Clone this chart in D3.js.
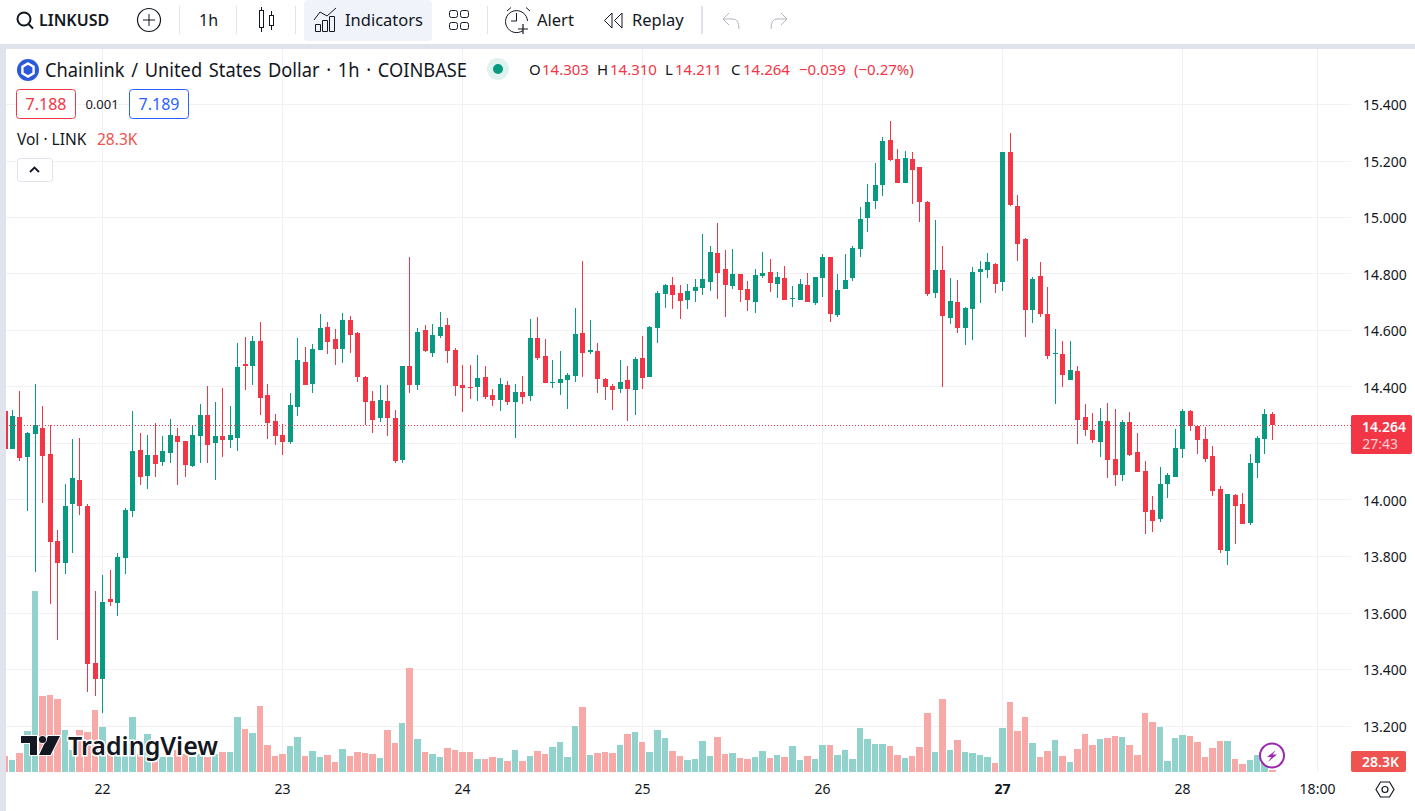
<!DOCTYPE html>
<html>
<head>
<meta charset="utf-8">
<title>LINKUSD</title>
<script src="https://cdn.jsdelivr.net/npm/d3@7"></script>
<style>
  html, body { margin: 0; padding: 0; background: #fff; overflow: hidden; }
  svg { display: block; font-family: "Noto Sans", sans-serif; }
  text { fill: #131722; }
</style>
</head>
<body>
<div id="chart"></div>
<script>
// ------------------------------
// DATA
// one bar per hour, bar 0 = the "22" tick
// ------------------------------
const firstBar = -13;

const opens = [
  14.315, 14.180, 14.294, 14.152, 14.233, 14.255, 14.163, 13.855, 13.777, 13.986, 14.071, 13.979, 13.423,
  13.366, 13.650, 13.635, 13.795, 13.961, 14.177, 14.085, 14.159, 14.134, 14.166, 14.226, 14.209,
  14.120, 14.226, 14.301, 14.202, 14.226, 14.212, 14.219, 14.481, 14.474, 14.563, 14.372, 14.280,
  14.230, 14.205, 14.329, 14.489, 14.411, 14.531, 14.612, 14.570, 14.535, 14.637, 14.591, 14.435,
  14.350, 14.290, 14.350, 14.290, 14.142, 14.474, 14.407, 14.602, 14.520, 14.581, 14.620, 14.531,
  14.407, 14.400, 14.400, 14.435, 14.372, 14.354, 14.407, 14.347, 14.382, 14.368, 14.573, 14.510,
  14.414, 14.414, 14.425, 14.439, 14.591, 14.524, 14.527, 14.428, 14.403, 14.393, 14.425, 14.389,
  14.502, 14.435, 14.609, 14.729, 14.761, 14.733, 14.708, 14.740, 14.750, 14.772, 14.874, 14.818,
  14.757, 14.800, 14.747, 14.701, 14.793, 14.807, 14.764, 14.786, 14.711, 14.708, 14.761, 14.697,
  14.786, 14.860, 14.655, 14.747, 14.786, 14.888, 14.998, 15.058, 15.115, 15.274, 15.207, 15.122,
  15.207, 15.179, 15.055, 14.733, 14.814, 14.644, 14.701, 14.609, 14.676, 14.807, 14.814, 14.835,
  14.772, 15.232, 15.041, 14.924, 14.672, 14.793, 14.658, 14.517, 14.517, 14.425, 14.457, 14.294,
  14.248, 14.205, 14.280, 14.145, 14.088, 14.276, 14.170, 14.103, 13.965, 13.933, 14.057, 14.081,
  14.181, 14.315, 14.262, 14.216, 14.156, 14.039, 13.820, 14.018, 13.986, 13.919, 14.131, 14.216,
  14.303
];
const highs = [
  14.330, 14.318, 14.386, 14.241, 14.410, 14.333, 14.265, 13.894, 14.056, 14.216, 14.219, 13.986, 13.678,
  13.734, 13.752, 13.812, 13.972, 14.315, 14.237, 14.230, 14.272, 14.226, 14.287, 14.255, 14.209,
  14.265, 14.340, 14.403, 14.347, 14.396, 14.333, 14.556, 14.577, 14.581, 14.630, 14.411, 14.304,
  14.269, 14.379, 14.573, 14.542, 14.552, 14.658, 14.630, 14.605, 14.662, 14.651, 14.595, 14.439,
  14.386, 14.407, 14.407, 14.319, 14.474, 14.860, 14.609, 14.620, 14.623, 14.666, 14.644, 14.538,
  14.478, 14.478, 14.513, 14.474, 14.393, 14.432, 14.421, 14.411, 14.439, 14.641, 14.648, 14.570,
  14.496, 14.527, 14.450, 14.680, 14.846, 14.637, 14.556, 14.432, 14.410, 14.495, 14.474, 14.506,
  14.580, 14.616, 14.740, 14.764, 14.789, 14.761, 14.764, 14.782, 14.941, 14.899, 14.980, 14.885,
  14.888, 14.800, 14.775, 14.818, 14.878, 14.853, 14.807, 14.828, 14.757, 14.782, 14.803, 14.789,
  14.871, 14.860, 14.800, 14.871, 14.899, 15.037, 15.119, 15.193, 15.285, 15.342, 15.242, 15.235,
  15.232, 15.179, 15.058, 14.991, 14.899, 14.786, 14.779, 14.683, 14.825, 14.846, 14.874, 14.839,
  15.232, 15.299, 15.080, 14.927, 14.789, 14.842, 14.754, 14.605, 14.563, 14.563, 14.474, 14.340,
  14.308, 14.326, 14.343, 14.322, 14.283, 14.312, 14.237, 14.138, 14.014, 14.117, 14.096, 14.251,
  14.322, 14.319, 14.262, 14.258, 14.191, 14.050, 14.021, 14.021, 14.025, 14.163, 14.227, 14.322,
  14.310
];
const lows = [
  14.170, 14.180, 14.138, 13.961, 13.745, 13.989, 13.632, 13.504, 13.738, 13.812, 13.947, 13.320, 13.306,
  13.246, 13.625, 13.589, 13.738, 13.940, 14.053, 14.039, 14.081, 14.120, 14.131, 14.053, 14.081,
  14.117, 14.131, 14.131, 14.071, 14.152, 14.184, 14.173, 14.389, 14.407, 14.301, 14.216, 14.195,
  14.159, 14.198, 14.297, 14.407, 14.379, 14.531, 14.517, 14.478, 14.485, 14.520, 14.418, 14.265,
  14.237, 14.276, 14.227, 14.131, 14.131, 14.379, 14.389, 14.524, 14.506, 14.573, 14.485, 14.368,
  14.311, 14.358, 14.350, 14.358, 14.333, 14.315, 14.336, 14.219, 14.340, 14.350, 14.496, 14.414,
  14.396, 14.372, 14.322, 14.418, 14.435, 14.517, 14.379, 14.354, 14.318, 14.379, 14.279, 14.301,
  14.393, 14.435, 14.556, 14.679, 14.676, 14.641, 14.676, 14.701, 14.725, 14.740, 14.711, 14.648,
  14.747, 14.701, 14.669, 14.662, 14.786, 14.736, 14.715, 14.708, 14.683, 14.708, 14.701, 14.690,
  14.718, 14.630, 14.648, 14.747, 14.775, 14.860, 14.949, 15.030, 15.076, 15.200, 15.122, 15.122,
  15.048, 14.984, 14.722, 14.715, 14.400, 14.623, 14.591, 14.549, 14.566, 14.697, 14.786, 14.733,
  14.740, 15.041, 14.846, 14.577, 14.626, 14.648, 14.499, 14.340, 14.400, 14.425, 14.198, 14.227,
  14.202, 14.152, 14.078, 14.050, 14.067, 14.156, 14.099, 13.880, 13.887, 13.922, 14.007, 14.081,
  14.149, 14.244, 14.163, 14.135, 14.014, 13.812, 13.770, 13.844, 13.915, 13.911, 14.078, 14.163,
  14.211
];
const closes = [
  14.180, 14.297, 14.148, 14.237, 14.265, 14.156, 13.851, 13.777, 13.979, 14.078, 13.979, 13.419, 13.366,
  13.639, 13.639, 13.798, 13.965, 14.173, 14.081, 14.159, 14.127, 14.173, 14.230, 14.205, 14.124,
  14.230, 14.301, 14.194, 14.226, 14.212, 14.230, 14.471, 14.474, 14.563, 14.361, 14.273, 14.227,
  14.205, 14.336, 14.496, 14.407, 14.535, 14.609, 14.559, 14.535, 14.637, 14.584, 14.435, 14.347,
  14.283, 14.354, 14.290, 14.138, 14.474, 14.407, 14.595, 14.527, 14.584, 14.612, 14.527, 14.404,
  14.396, 14.398, 14.432, 14.365, 14.354, 14.411, 14.347, 14.382, 14.365, 14.573, 14.503, 14.414,
  14.418, 14.428, 14.443, 14.588, 14.520, 14.531, 14.428, 14.400, 14.389, 14.418, 14.393, 14.499,
  14.432, 14.612, 14.733, 14.761, 14.725, 14.704, 14.740, 14.754, 14.782, 14.878, 14.803, 14.761,
  14.800, 14.743, 14.708, 14.796, 14.803, 14.768, 14.789, 14.708, 14.715, 14.764, 14.701, 14.789,
  14.860, 14.658, 14.743, 14.779, 14.892, 14.995, 15.055, 15.115, 15.271, 15.204, 15.122, 15.211,
  15.168, 15.055, 14.729, 14.814, 14.651, 14.704, 14.609, 14.680, 14.807, 14.818, 14.842, 14.765,
  15.232, 15.044, 14.906, 14.672, 14.782, 14.658, 14.510, 14.520, 14.443, 14.460, 14.283, 14.248,
  14.212, 14.280, 14.142, 14.088, 14.276, 14.159, 14.099, 13.958, 13.926, 14.057, 14.089, 14.184,
  14.315, 14.262, 14.212, 14.145, 14.032, 13.823, 14.021, 13.979, 13.915, 14.131, 14.219, 14.304,
  14.264
];
// volume in thousands of LINK
const volumes = [
  224, 168, 266, 574, 2534, 1064, 1078, 1022, 588, 308, 588, 560, 868,
  630, 308, 308, 308, 770, 252, 532, 252, 210, 210, 308, 252,
  210, 252, 210, 252, 280, 280, 770, 602, 546, 924, 378, 224,
  252, 364, 490, 224, 294, 210, 238, 140, 322, 224, 280, 266,
  252, 196, 588, 406, 686, 1456, 462, 280, 252, 210, 336, 308,
  280, 280, 182, 182, 210, 196, 154, 308, 154, 224, 294, 252,
  350, 420, 210, 644, 910, 238, 266, 280, 266, 378, 532, 560,
  420, 280, 588, 476, 294, 224, 168, 182, 434, 224, 490, 252,
  266, 196, 182, 210, 294, 196, 238, 210, 364, 168, 224, 182,
  378, 378, 238, 308, 182, 616, 462, 392, 392, 364, 238, 196,
  224, 350, 826, 280, 1022, 308, 448, 280, 266, 238, 210, 126,
  616, 980, 574, 770, 406, 210, 294, 448, 224, 140, 322, 532,
  378, 462, 476, 504, 490, 378, 238, 826, 700, 630, 154, 476,
  518, 504, 420, 210, 336, 434, 434, 182, 112, 168, 238, 196,
  28.3
];

const priceTicks = [15.4, 15.2, 15.0, 14.8, 14.6, 14.4, 14.0, 13.8, 13.6, 13.4, 13.2];
const gridPrices = [15.4, 15.2, 15.0, 14.8, 14.6, 14.4, 14.2, 14.0, 13.8, 13.6, 13.4, 13.2];
const timeTicks = [0, 24, 48, 72, 96, 120, 144, 162];
const timeLabels = ["22", "23", "24", "25", "26", "27", "28", "18:00"];
const lastPrice = 14.264;
const lastVolume = 28.3;

// ------------------------------
// LAYOUT
// ------------------------------
const width = 1415;
const height = 811;
const paneLeft = 6;
const paneTop = 49;
const paneRight = 1351;
const paneBottom = 772;

const UP = "#089981";
const DOWN = "#f23645";
const UP_VOL = "#92d2cc";
const DOWN_VOL = "#f7a9a7";
const GRID = "#f0f1f3";
const BAND = "#e0e3eb";
const INK = "#131722";

const svg = d3.select("#chart").append("svg")
  .attr("width", width)
  .attr("height", height)
  .attr("viewBox", `0 0 ${width} ${height}`);

svg.append("rect").attr("width", width).attr("height", height).attr("fill", "#fff");

// ------------------------------
// SCALES
// ------------------------------
const x = d3.scaleLinear().domain([0, 144]).range([102, 1182]);
const y = d3.scaleLinear().domain([13.2, 15.4]).range([726, 104.5]);
const yVol = d3.scaleLinear().domain([0, 2534]).range([paneBottom, 591]);

const bars = opens.map((o, i) => ({
  bar: firstBar + i,
  open: o,
  high: highs[i],
  low: lows[i],
  close: closes[i],
  volume: volumes[i]
}));
const isUp = d => d.close >= d.open;
const px = d => Math.round(x(d.bar));

// ------------------------------
// BANDS AROUND THE PANE
// ------------------------------
svg.append("rect").attr("x", 0).attr("y", 44).attr("width", width).attr("height", 5).attr("fill", BAND);
svg.append("rect").attr("x", 0).attr("y", 44).attr("width", paneLeft).attr("height", height - 44).attr("fill", BAND);

svg.append("clipPath").attr("id", "pane")
  .append("rect")
  .attr("x", paneLeft).attr("y", paneTop)
  .attr("width", paneRight - paneLeft).attr("height", paneBottom - paneTop);

// ------------------------------
// GRID
// ------------------------------
const grid = svg.append("g").attr("shape-rendering", "crispEdges").attr("stroke", GRID);
grid.selectAll("line.h").data(gridPrices).join("line")
  .attr("class", "h")
  .attr("x1", paneLeft).attr("x2", paneRight)
  .attr("y1", d => Math.floor(y(d)) + 0.5).attr("y2", d => Math.floor(y(d)) + 0.5);
grid.selectAll("line.v").data(timeTicks).join("line")
  .attr("class", "v")
  .attr("x1", d => Math.round(x(d)) + 0.5).attr("x2", d => Math.round(x(d)) + 0.5)
  .attr("y1", paneTop).attr("y2", paneBottom);

// ------------------------------
// VOLUME + CANDLES
// ------------------------------
const plot = svg.append("g").attr("clip-path", "url(#pane)").attr("shape-rendering", "crispEdges");

plot.append("g").selectAll("rect").data(bars).join("rect")
  .attr("x", d => px(d) - 3)
  .attr("width", d => Math.round(x(d.bar + 1)) - px(d) - 1)
  .attr("y", d => yVol(d.volume))
  .attr("height", d => paneBottom - yVol(d.volume))
  .attr("fill", d => isUp(d) ? UP_VOL : DOWN_VOL);

// logo sits over the volume bars, under the candles
const logo = svg.append("g");
logo.append("path")
  .attr("d", "M21 736H37V755H30V743H21Z M39 755L48 736H60L50.5 755Z")
  .attr("fill", INK).attr("stroke", "#fff").attr("stroke-width", 2).attr("paint-order", "stroke");
logo.append("circle").attr("cx", 42.5).attr("cy", 739.5).attr("r", 3.6)
  .attr("fill", INK).attr("stroke", "#fff").attr("stroke-width", 1.5).attr("paint-order", "stroke");
logo.append("text")
  .attr("x", 68).attr("y", 755)
  .attr("font-size", 25)
  .attr("font-weight", 600)
  .attr("stroke", "#fff").attr("stroke-width", 3).attr("paint-order", "stroke")
  .text("TradingView");

const candles = svg.append("g").attr("clip-path", "url(#pane)").attr("shape-rendering", "crispEdges");

candles.append("g").selectAll("rect").data(bars).join("rect")
  .attr("x", d => px(d))
  .attr("width", 1)
  .attr("y", d => y(d.high))
  .attr("height", d => y(d.low) - y(d.high))
  .attr("fill", d => isUp(d) ? UP : DOWN);

candles.append("g").selectAll("rect").data(bars).join("rect")
  .attr("x", d => px(d) - 2)
  .attr("width", 5)
  .attr("y", d => y(Math.max(d.open, d.close)))
  .attr("height", d => Math.max(1, Math.abs(y(d.open) - y(d.close))))
  .attr("fill", d => isUp(d) ? UP : DOWN);

// last price line
svg.append("line")
  .attr("x1", paneLeft).attr("x2", paneRight)
  .attr("y1", Math.floor(y(lastPrice)) + 0.5).attr("y2", Math.floor(y(lastPrice)) + 0.5)
  .attr("stroke", DOWN).attr("stroke-dasharray", "1 2");

// ------------------------------
// AXES
// ------------------------------
const yAxis = svg.append("g")
  .attr("transform", `translate(${paneRight},0)`)
  .call(d3.axisRight(y).tickValues(priceTicks).tickSize(0).tickPadding(12).tickFormat(d3.format(".3f")));
yAxis.select(".domain").remove();
yAxis.selectAll("text")
  .attr("font-size", 14).attr("font-family", "'Noto Sans'").attr("fill", INK)
  .attr("transform", "translate(0,1)");

const xAxis = svg.append("g")
  .attr("transform", `translate(0,${paneBottom})`)
  .call(d3.axisBottom(x).tickValues(timeTicks).tickSize(0).tickPadding(12).tickFormat((d, i) => timeLabels[i]));
xAxis.select(".domain").remove();
xAxis.selectAll("text")
  .attr("font-size", 14).attr("font-family", "'Noto Sans'").attr("fill", INK)
  .attr("font-weight", (d, i) => timeLabels[i] === "27" ? 700 : 400);

// price + countdown tag
const tag = svg.append("g");
tag.append("rect").attr("x", paneRight).attr("y", 415).attr("width", 61).attr("height", 39).attr("rx", 2).attr("fill", DOWN);
tag.append("text").attr("x", 1406).attr("y", 432).attr("text-anchor", "end")
  .attr("font-size", 14).attr("font-weight", 600).style("fill", "#fff").text(d3.format(".3f")(lastPrice));
tag.append("text").attr("x", 1398).attr("y", 449).attr("text-anchor", "end")
  .attr("font-size", 14).style("fill", "#fff").style("opacity", 0.75).text("27:43");

// volume tag
tag.append("rect").attr("x", paneRight).attr("y", 751).attr("width", 55).attr("height", 21).attr("rx", 2).attr("fill", "#ef5350");
tag.append("text").attr("x", 1399).attr("y", 767).attr("text-anchor", "end")
  .attr("font-size", 14).attr("font-weight", 600).style("fill", "#fff").text(lastVolume + "K");

// ------------------------------
// LEGEND
// ------------------------------
const legend = svg.append("g");
legend.append("circle").attr("cx", 28).attr("cy", 70).attr("r", 11).attr("fill", "#2a5ada");
legend.append("path")
  .attr("d", "M28 63.5L33.6 66.75V73.25L28 76.5L22.4 73.25V66.75Z")
  .attr("fill", "none").attr("stroke", "#fff").attr("stroke-width", 2.4);
legend.append("text").attr("x", 45).attr("y", 77).attr("font-size", 19)
  .attr("word-spacing", 2)
  .attr("textLength", 422).attr("lengthAdjust", "spacingAndGlyphs")
  .text("Chainlink / United States Dollar · 1h · COINBASE");
legend.append("circle").attr("cx", 498).attr("cy", 69).attr("r", 11).attr("fill", "#e0f2ef");
legend.append("circle").attr("cx", 498).attr("cy", 69).attr("r", 5).attr("fill", UP);

const ohlc = [
  ["O", 529, "#131722"], ["14.303", 542, DOWN],
  ["H", 597, "#131722"], ["14.310", 610, DOWN],
  ["L", 665, "#131722"], ["14.211", 675, DOWN],
  ["C", 731, "#131722"], ["14.264", 743, DOWN],
  ["−0.039", 799, DOWN], ["(−0.27%)", 854, DOWN]
];
legend.selectAll("text.ohlc").data(ohlc).join("text")
  .attr("class", "ohlc")
  .attr("x", d => d[1]).attr("y", 75)
  .attr("font-size", 15)
  .style("fill", d => d[2])
  .text(d => d[0]);

legend.append("rect").attr("x", 16.5).attr("y", 89.5).attr("width", 59).attr("height", 29).attr("rx", 3)
  .attr("fill", "#fff").attr("stroke", DOWN);
legend.append("text").attr("x", 46).attr("y", 110).attr("text-anchor", "middle").attr("font-size", 16)
  .style("fill", DOWN).text("7.188");
legend.append("text").attr("x", 102).attr("y", 109).attr("text-anchor", "middle").attr("font-size", 13)
  .text("0.001");
legend.append("rect").attr("x", 129.5).attr("y", 89.5).attr("width", 59).attr("height", 29).attr("rx", 3)
  .attr("fill", "#fff").attr("stroke", "#2962ff");
legend.append("text").attr("x", 159).attr("y", 110).attr("text-anchor", "middle").attr("font-size", 16)
  .style("fill", "#2962ff").text("7.189");

legend.append("text").attr("x", 17).attr("y", 145).attr("font-size", 15.5).text("Vol · LINK");
legend.append("text").attr("x", 97).attr("y", 145).attr("font-size", 15.5).style("fill", "#ef5350").text(lastVolume + "K");

legend.append("rect").attr("x", 17.5).attr("y", 158.5).attr("width", 35).attr("height", 23).attr("rx", 3)
  .attr("fill", "#fff").attr("stroke", BAND);
legend.append("path").attr("d", "M30 172L34.5 167.5L39 172").attr("fill", "none").attr("stroke", INK).attr("stroke-width", 1.8);

// bolt badge
const bolt = svg.append("g");
bolt.append("circle").attr("cx", 1272).attr("cy", 755.5).attr("r", 12).attr("fill", "#fff")
  .attr("stroke", "#9c27b0").attr("stroke-width", 2);
bolt.append("path").attr("d", "M1276 750L1267 757H1271.5L1268 762L1277 754.5H1272.5Z").attr("fill", "#9c27b0");

// settings hexagon
svg.append("path").attr("d", "M1376 789.5L1380.5 782H1389.5L1394 789.5L1389.5 797H1380.5Z")
  .attr("fill", "none").attr("stroke", INK).attr("stroke-width", 1.2);
svg.append("circle").attr("cx", 1385).attr("cy", 789.5).attr("r", 3).attr("fill", "none").attr("stroke", INK).attr("stroke-width", 1.2);

// ------------------------------
// TOP TOOLBAR
// ------------------------------
const bar = svg.append("g");
bar.append("rect").attr("x", 304).attr("y", 0).attr("width", 128).attr("height", 41).attr("rx", 4).attr("fill", "#f0f3fa");

bar.selectAll("rect.sep").data([179, 236, 295, 487, 701]).join("rect")
  .attr("class", "sep")
  .attr("x", d => d).attr("y", 6).attr("width", d => d === 701 ? 2 : 1).attr("height", 28).attr("fill", BAND);

const toolbarText = [
  ["LINKUSD", 39, 600, 16], ["1h", 199, 400, 16], ["Indicators", 345, 400, 16.5],
  ["Alert", 537, 400, 16.5], ["Replay", 632, 400, 16.5]
];
bar.selectAll("text").data(toolbarText).join("text")
  .attr("x", d => d[1]).attr("y", 26)
  .attr("font-weight", d => d[2]).attr("font-size", d => d[3])
  .text(d => d[0]);

const icons = bar.append("g").attr("fill", "none").attr("stroke", INK);
// search
icons.append("circle").attr("cx", 24).attr("cy", 19).attr("r", 6.5).attr("stroke-width", 2);
icons.append("path").attr("d", "M28.5 24L33 28.5").attr("stroke-width", 2);
// add symbol
icons.append("circle").attr("cx", 149).attr("cy", 20).attr("r", 11.5).attr("stroke-width", 1.2);
icons.append("path").attr("d", "M149 14V26M143 20H155");
// candle type
icons.append("path").attr("d", "M261.5 7V10M261.5 28V32M271.5 11V15M271.5 26V30");
icons.append("rect").attr("x", 259.5).attr("y", 10.5).attr("width", 4).attr("height", 17);
icons.append("rect").attr("x", 269.5).attr("y", 15.5).attr("width", 4).attr("height", 10);
// indicators
icons.append("path").attr("d", "M314 20L320 12L327 16L336 8");
icons.append("path").attr("d", "M315.5 24.5H320.5V31.5H315.5Z M322.5 20.5H327.5V31.5H322.5Z M329.5 16.5H334.5V31.5H329.5Z");
// layouts
[[449, 10], [460, 10], [449, 22], [460, 22]].forEach(d => {
  icons.append("rect").attr("x", d[0] + 0.5).attr("y", d[1] + 0.5).attr("width", 8).attr("height", 7).attr("rx", 2);
});
// alert clock
icons.append("path").attr("d", "M523 30.5A11 11 0 1 1 527.5 21");
icons.append("path").attr("d", "M507 11L511 7.5M526 7.5L530 11M516.5 13V21H511");
icons.append("path").attr("d", "M523 24V34M518 29H528").attr("stroke-width", 1.2);
// replay
icons.append("path").attr("d", "M612 13L604.5 20.5L612 28ZM622 13L614.5 20.5L622 28Z");
// undo / redo
const greyed = bar.append("g").attr("fill", "none").attr("stroke", "#b2b5be");
greyed.append("path").attr("d", "M729 13L723 19L729 25M723 19H733Q739 19 739 29");
greyed.append("path").attr("d", "M781 13L787 19L781 25M787 19H777Q771 19 771 29");
</script>
</body>
</html>
